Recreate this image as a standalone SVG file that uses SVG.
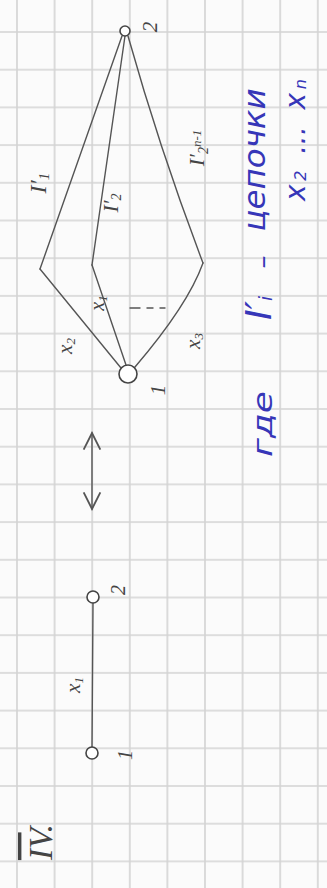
<svg xmlns="http://www.w3.org/2000/svg" width="327" height="888" viewBox="0 0 327 888">
<style>
.pen{fill:none;stroke:#555;stroke-width:1.4;stroke-linecap:round;stroke-linejoin:round}
.node{fill:#fff;stroke:#444;stroke-width:1.6}
.lbl{font-family:"Liberation Serif",serif;font-style:italic;fill:#444}
.ink{font-family:"DejaVu Sans",sans-serif;font-style:italic;fill:#3636b8}
</style>
<defs>
<pattern id="grid" patternUnits="userSpaceOnUse" x="16" y="31" width="37.6" height="37.7">
<path d="M1 0V37.7M0 1H37.6" stroke="#d3d3d3" stroke-width="1.6" fill="none"/>
</pattern>
<marker id="ah" viewBox="0 0 12 12" refX="11" refY="6" markerWidth="20" markerHeight="20" markerUnits="userSpaceOnUse" orient="auto-start-reverse">
<path d="M1 1 L11 6 L1 11" fill="none" stroke="#555" stroke-width="1.1"/>
</marker>
</defs>
<rect width="327" height="888" fill="#fbfbfb"/>
<rect width="327" height="888" fill="url(#grid)"/>

<g id="connectors">
<path class="pen" d="M122 36 L40 269"/>
<path class="pen" d="M125 36 L92 265"/>
<path class="pen" d="M128 36 Q160 150 203 263"/>
<path class="pen" d="M40 269 L121 368"/>
<path class="pen" d="M92 265 L126 365"/>
<path class="pen" d="M203 263 Q188 305 135 367"/>
<path class="pen" d="M93 603 L92 747"/>
<path class="pen" d="M130 308 H140 M147 308 H153 M160 308 H165"/>
<path class="pen" d="M92 433 L92 509" marker-start="url(#ah)" marker-end="url(#ah)"/>
</g>

<g id="node-top-2">
<circle class="node" cx="125" cy="31" r="5"/>
<text class="lbl" transform="translate(150,27) rotate(-90)" text-anchor="middle" dominant-baseline="central" font-size="21">2</text>
</g>
<g id="node-top-1">
<circle class="node" cx="128" cy="374" r="9"/>
<text class="lbl" transform="translate(158,390) rotate(-90)" text-anchor="middle" dominant-baseline="central" font-size="21">1</text>
</g>
<g id="node-bottom-2">
<circle class="node" cx="93" cy="597" r="6"/>
<text class="lbl" transform="translate(118,590) rotate(-90)" text-anchor="middle" dominant-baseline="central" font-size="20">2</text>
</g>
<g id="node-bottom-1">
<circle class="node" cx="92" cy="753" r="6"/>
<text class="lbl" transform="translate(125,755) rotate(-90)" text-anchor="middle" dominant-baseline="central" font-size="20">1</text>
</g>

<g id="edge-labels">
<text class="lbl" transform="translate(38,183) rotate(-90)" text-anchor="middle" dominant-baseline="central" font-size="24">I′<tspan font-size="15" dy="6">1</tspan></text>
<text class="lbl" transform="translate(110,203) rotate(-90)" text-anchor="middle" dominant-baseline="central" font-size="22">I′<tspan font-size="14" dy="6">2</tspan></text>
<text class="lbl" transform="translate(196,148) rotate(-90)" text-anchor="middle" dominant-baseline="central" font-size="22">I′<tspan font-size="14" dy="7">2</tspan><tspan font-size="13" dy="-7">n-1</tspan></text>
<text class="lbl" transform="translate(65,346) rotate(-90)" text-anchor="middle" dominant-baseline="central" font-size="21">x<tspan font-size="13" dy="5">2</tspan></text>
<text class="lbl" transform="translate(97,303) rotate(-90)" text-anchor="middle" dominant-baseline="central" font-size="20">x<tspan font-size="13" dy="5">1</tspan></text>
<text class="lbl" transform="translate(193,341) rotate(-90)" text-anchor="middle" dominant-baseline="central" font-size="21">x<tspan font-size="13" dy="5">3</tspan></text>
<text class="lbl" transform="translate(73,685) rotate(-90)" text-anchor="middle" dominant-baseline="central" font-size="21">x<tspan font-size="13" dy="5">1</tspan></text>
</g>

<g id="title">
<text class="lbl" transform="translate(40,842) rotate(-90)" text-anchor="middle" dominant-baseline="central" font-size="34" font-style="normal"><tspan text-decoration="overline">IV</tspan>.</text>
</g>

<g id="note">
<text class="ink" transform="translate(263,424) rotate(-90)" text-anchor="middle" dominant-baseline="central" font-size="26" textLength="66" lengthAdjust="spacingAndGlyphs">где</text>
<text class="ink" transform="translate(258,308) rotate(-90)" text-anchor="middle" dominant-baseline="central" font-size="36">I′<tspan font-size="18" dy="7">i</tspan></text>
<text class="ink" transform="translate(262,262) rotate(-90)" text-anchor="middle" dominant-baseline="central" font-size="26">–</text>
<text class="ink" transform="translate(254,160) rotate(-90)" text-anchor="middle" dominant-baseline="central" font-size="30" textLength="143" lengthAdjust="spacingAndGlyphs">цепочки</text>
<text class="ink" transform="translate(295,140) rotate(-90)" text-anchor="middle" dominant-baseline="central" font-size="28" textLength="122" lengthAdjust="spacing">x<tspan font-size="16" dy="5">2</tspan><tspan dy="-5"> … </tspan>x<tspan font-size="16" dy="5">n</tspan></text>
</g>
</svg>
